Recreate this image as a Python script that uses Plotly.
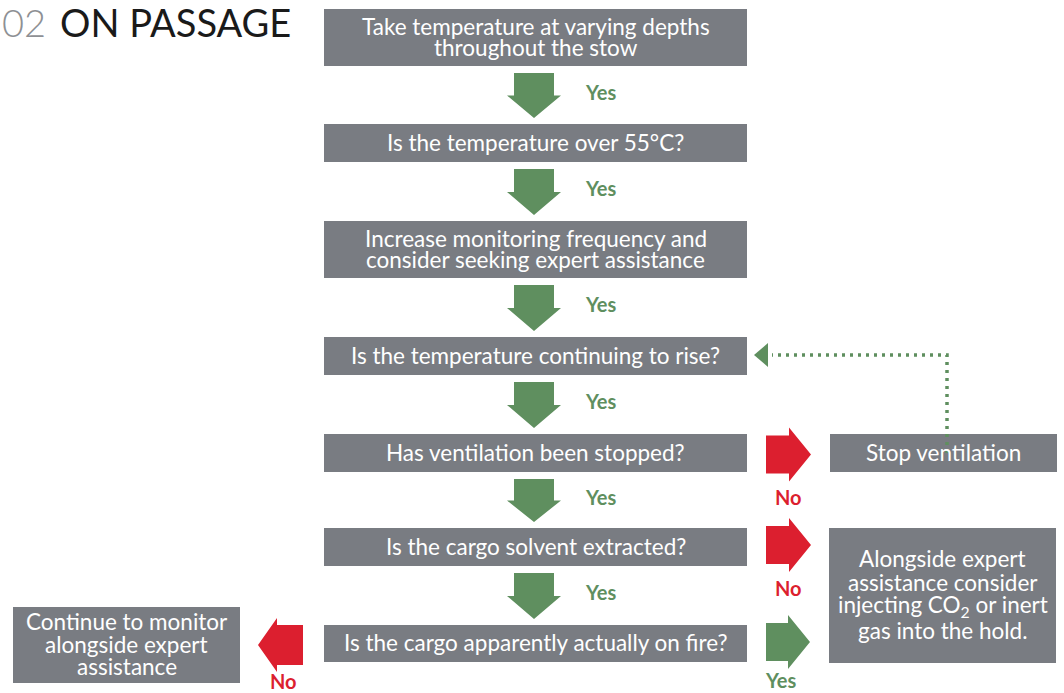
import plotly.graph_objects as go

# ---------------- data ----------------
TITLE_NUM = "02"
TITLE_TEXT = "ON PASSAGE"
main_steps = [
    "Take temperature at varying depths<br>throughout the stow",
    "Is the temperature over 55°C?",
    "Increase monitoring frequency and<br>consider seeking expert assistance",
    "Is the temperature continuing to rise?",
    "Has ventilation been stopped?",
    "Is the cargo solvent extracted?",
    "Is the cargo apparently actually on fire?",
]
down_labels = ["Yes", "Yes", "Yes", "Yes", "Yes", "Yes"]
side_steps = [
    "Stop ventilation",
    "Alongside expert<br>assistance consider<br>injecting CO<sub>2</sub> or inert<br>gas into the hold.",
    "Continue to monitor<br>alongside expert<br>assistance",
]
side_labels = ["No", "No", "Yes", "No"]

# ---------------- layout geometry (pixels) ----------------
W, H = 1064, 693
BOX = "#797c82"
GREEN = "#5f8f5f"
RED = "#dc1f2f"
FONT = "Lato"
TXT = 22.5

main_x = (324, 747)
main_y = [(9, 66), (124, 162), (221, 278), (337, 375), (434, 472), (528, 566), (625, 662)]
side_boxes = [(830, 1057, 434, 472), (829, 1056, 528, 663), (13, 240, 607, 683)]
line_gap = [21, 23.8, 22.5]

shapes = []
annotations = []


def add_text(lines, cx, cy, gap, size, color="white", weight="normal"):
    n = len(lines)
    for i, ln in enumerate(lines):
        y = cy + (i - (n - 1) / 2) * gap
        annotations.append(dict(x=cx, y=y, xref="x", yref="y", text=ln, showarrow=False,
                                font=dict(family=FONT, size=size, color=color, weight=weight),
                                xanchor="center", yanchor="middle"))


# main boxes
for txt, (y0, y1) in zip(main_steps, main_y):
    shapes.append(dict(type="rect", x0=main_x[0], x1=main_x[1], y0=y0, y1=y1,
                       fillcolor=BOX, line=dict(width=0), layer="below"))
    add_text(txt.split("<br>"), (main_x[0] + main_x[1]) / 2, (y0 + y1) / 2 - 1, 21, TXT)

# down arrows
cx = 534
for i, lab in enumerate(down_labels):
    top = main_y[i][1] + 7
    tip = main_y[i + 1][0] - 6
    mid = top + (tip - top) * 0.5
    path = (f"M {cx-20},{top} L {cx+20},{top} L {cx+20},{mid} L {cx+27},{mid} "
            f"L {cx},{tip} L {cx-27},{mid} L {cx-20},{mid} Z")
    shapes.append(dict(type="path", path=path, fillcolor=GREEN, line=dict(width=0)))
    annotations.append(dict(x=600, y=(top + tip) / 2 - 4, xref="x", yref="y", text=lab, showarrow=False,
                            font=dict(family=FONT, size=20, color=GREEN, weight="bold"),
                            xanchor="center", yanchor="middle"))


def right_arrow(x0, xtip, ymid, half_shaft, half_head):
    xh = xtip - 22
    return (f"M {x0},{ymid-half_shaft} L {xh},{ymid-half_shaft} L {xh},{ymid-half_head} "
            f"L {xtip},{ymid} L {xh},{ymid+half_head} L {xh},{ymid+half_shaft} "
            f"L {x0},{ymid+half_shaft} Z")


side_arrows = [(766, 811, 454.5, RED), (766, 811, 545, RED), (766, 810, 642, GREEN)]
label_pos = [(788, 497), (788, 588), (780, 680), (283, 681)]
label_cols = [RED, RED, GREEN, RED]
for (x0, xt, ym, col) in side_arrows:
    shapes.append(dict(type="path", path=right_arrow(x0, xt, ym, 19, 27),
                       fillcolor=col, line=dict(width=0)))
# left arrow
ym = 645
shapes.append(dict(type="path",
                   path=(f"M 303,{ym-20} L 277,{ym-20} L 277,{ym-27} L 258,{ym} "
                         f"L 277,{ym+27} L 277,{ym+20} L 303,{ym+20} Z"),
                   fillcolor=RED, line=dict(width=0)))
for lab, (lx, ly), col in zip(side_labels, label_pos, label_cols):
    annotations.append(dict(x=lx, y=ly, xref="x", yref="y", text=lab, showarrow=False,
                            font=dict(family=FONT, size=20, color=col, weight="bold"),
                            xanchor="center", yanchor="middle"))

# side boxes
for txt, (x0, x1, y0, y1), g in zip(side_steps, side_boxes, line_gap):
    shapes.append(dict(type="rect", x0=x0, x1=x1, y0=y0, y1=y1,
                       fillcolor=BOX, line=dict(width=0), layer="below"))
    add_text(txt.split("<br>"), (x0 + x1) / 2, (y0 + y1) / 2 - 1, g, TXT)

# dotted feedback line
shapes.append(dict(type="path", path="M 947,453 L 947,355 L 772,355",
                   line=dict(color=GREEN, width=3.5, dash="3px,5px")))
shapes.append(dict(type="path", path="M 754,355 L 768,343 L 768,367 Z",
                   fillcolor=GREEN, line=dict(width=0)))

# title
annotations.append(dict(x=0, y=22, xref="x", yref="y", text=TITLE_NUM, showarrow=False,
                        font=dict(family=FONT, size=38, color="#8e9094", weight=300),
                        xanchor="left", yanchor="middle"))
annotations.append(dict(x=58, y=22, xref="x", yref="y", text=TITLE_TEXT, showarrow=False,
                        font=dict(family=FONT, size=38, color="#1a1a1a"),
                        xanchor="left", yanchor="middle"))

fig = go.Figure()
fig.update_layout(
    width=W, height=H, margin=dict(l=0, r=0, t=0, b=0),
    paper_bgcolor="white", plot_bgcolor="white",
    xaxis=dict(range=[0, W], visible=False, fixedrange=True),
    yaxis=dict(range=[H, 0], visible=False, fixedrange=True),
    shapes=shapes, annotations=annotations, showlegend=False,
)
fig.write_html("out.html", config=dict(displayModeBar=False),
               post_script="document.body.style.margin='0';document.body.style.overflow='hidden';")
